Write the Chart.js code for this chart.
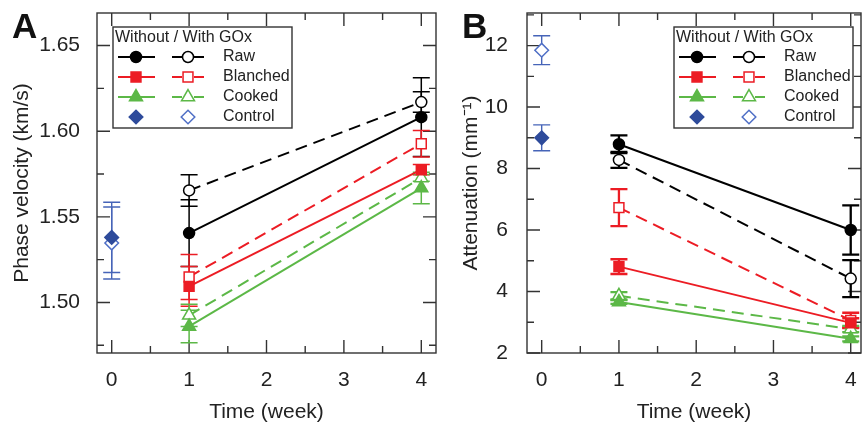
<!DOCTYPE html>
<html>
<head>
<meta charset="utf-8">
<script src="https://cdn.jsdelivr.net/npm/chart.js@4.4.1/dist/chart.umd.min.js"></script>
<style>
  html, body { margin: 0; padding: 0; background: #fff; overflow: hidden; }
  #wrap { position: relative; width: 863px; height: 425px; }
  .panel { position: absolute; top: 0; height: 425px; }
  #panelA { left: 0; width: 445px; }
  #panelB { left: 430px; width: 440px; }
</style>
</head>
<body>
<div id="wrap">
  <div class="panel" id="panelA"><canvas id="chartA" width="445" height="425"></canvas></div>
  <div class="panel" id="panelB"><canvas id="chartB" width="440" height="425"></canvas></div>
</div>
<script>
// ===============================
// Dados
// ===============================
const weeks = [1, 4];
const controlWeek = [0];
const xTicks = [0, 1, 2, 3, 4];

// Painel A - velocidade de fase (km/s)
const velTicks = [1.50, 1.55, 1.60, 1.65];
const velRaw = [1.5405, 1.6082];
const velRawErr = [0.0195, 0.023];
const velRawGox = [1.5654, 1.617];
const velRawGoxErr = [0.0092, 0.006];
const velBlanched = [1.5094, 1.5775];
const velBlanchedErr = [0.0116, 0.003];
const velBlanchedGox = [1.5149, 1.5927];
const velBlanchedGoxErr = [0.0131, 0.0077];
const velCooked = [1.486, 1.5668];
const velCookedErr = [0.0095, 0.0092];
const velCookedGox = [1.4925, 1.5727];
const velCookedGoxErr = [0.0065, 0.002];
const velControl = [1.538];
const velControlErr = [0.0205];
const velControlGox = [1.5347];
const velControlGoxErr = [0.021];

// Painel B - atenuação (mm^-1)
const attTicks = [2, 4, 6, 8, 10, 12];
const attRaw = [8.79, 6.0];
const attRawErr = [0.29, 0.8];
const attRawGox = [8.28, 4.42];
const attRawGoxErr = [0.26, 0.6];
const attBlanched = [4.81, 2.98];
const attBlanchedErr = [0.24, 0.15];
const attBlanchedGox = [6.73, 3.06];
const attBlanchedGoxErr = [0.6, 0.25];
const attCooked = [3.66, 2.46];
const attCookedErr = [0.06, 0.08];
const attCookedGox = [3.86, 2.78];
const attCookedGoxErr = [0.12, 0.1];
const attControl = [9.0];
const attControlErr = [0.42];
const attControlGox = [11.85];
const attControlGoxErr = [0.47];

// ===============================
// Estilos
// ===============================
const FONT = "'Liberation Sans', Arial, sans-serif";
const colors = { Raw: "#000000", Blanched: "#ec1c24", Cooked: "#5cb847", Control: "#2e4b9b" };
const markers = { Raw: "circle", Blanched: "rect", Cooked: "triangle", Control: "rectRot" };
const radius = { circle: 5.5, rect: 7, triangle: 7.5, rectRot: 6.8 };

const makeSet = (name, xs, ys, errs, withGox) => {
  const c = colors[name];
  const style = markers[name];
  const isControl = name === "Control";
  return {
    label: name + (withGox ? " with GOx" : " without GOx"),
    group: name,
    withGox,
    data: xs.map((x, i) => ({ x, y: ys[i] })),
    errors: errs,
    errorColor: isControl ? "#4664b8" : c,
    borderColor: c,
    borderWidth: 2,
    borderDash: withGox ? [12, 7] : [],
    showLine: !isControl,
    pointStyle: style,
    pointRadius: radius[style],
    pointBackgroundColor: withGox ? "#ffffff" : c,
    pointBorderColor: withGox && isControl ? "#4f6fc6" : c,
    pointBorderWidth: 1.5,
    fill: false,
    tension: 0
  };
};

// ===============================
// Plugins
// ===============================
const errorBars = {
  id: "errorBars",
  beforeDatasetsDraw(chart, args, opts) {
    const { ctx, scales: { x, y } } = chart;
    ctx.save();
    chart.data.datasets.forEach(ds => {
      ctx.strokeStyle = ds.errorColor;
      ctx.lineWidth = ds.group === "Control" ? opts.thin : opts.width;
      ds.data.forEach((p, j) => {
        const e = ds.errors[j];
        const px = x.getPixelForValue(p.x);
        const top = y.getPixelForValue(p.y + e);
        const bot = y.getPixelForValue(p.y - e);
        ctx.beginPath();
        ctx.moveTo(px, top); ctx.lineTo(px, bot);
        ctx.moveTo(px - opts.cap, top); ctx.lineTo(px + opts.cap, top);
        ctx.moveTo(px - opts.cap, bot); ctx.lineTo(px + opts.cap, bot);
        ctx.stroke();
      });
    });
    ctx.restore();
  }
};

// moldura com ticks para dentro nos quatro lados
const frameTicks = {
  id: "frameTicks",
  beforeDatasetsDraw(chart) {
    const { ctx, chartArea: a, scales: { x, y } } = chart;
    const major = 13, minor = 7;
    const withMinor = scale => {
      const vals = scale.ticks.map(t => t.value);
      const step = vals[1] - vals[0];
      const out = vals.map(v => ({ v, len: major }));
      for (let v = vals[0] - step / 2; v <= scale.max; v += step) {
        if (v >= scale.min) out.push({ v, len: minor });
      }
      return out;
    };
    ctx.save();
    ctx.strokeStyle = "#333";
    ctx.lineWidth = 1.4;
    ctx.beginPath();
    withMinor(x).forEach(t => {
      const px = x.getPixelForValue(t.v);
      ctx.moveTo(px, a.bottom); ctx.lineTo(px, a.bottom - t.len);
      ctx.moveTo(px, a.top); ctx.lineTo(px, a.top + t.len);
    });
    withMinor(y).forEach(t => {
      const py = y.getPixelForValue(t.v);
      ctx.moveTo(a.left, py); ctx.lineTo(a.left + t.len, py);
      ctx.moveTo(a.right, py); ctx.lineTo(a.right - t.len, py);
    });
    ctx.stroke();
    ctx.strokeRect(a.left, a.top, a.right - a.left, a.bottom - a.top);
    ctx.restore();
  }
};

// legenda "Without / With GOx"
const goxLegend = {
  id: "goxLegend",
  afterDraw(chart, args, opts) {
    const { ctx } = chart;
    const bx = opts.x, by = opts.y, bw = 179, bh = 101;
    ctx.save();
    ctx.fillStyle = "#fff";
    ctx.fillRect(bx, by, bw, bh);
    ctx.strokeStyle = "#333";
    ctx.lineWidth = 1.4;
    ctx.strokeRect(bx, by, bw, bh);
    ctx.fillStyle = "#222";
    ctx.font = "16px " + FONT;
    ctx.textBaseline = "middle";
    ctx.fillText("Without / With GOx", bx + 2, by + 11);

    const groups = ["Raw", "Blanched", "Cooked", "Control"];
    groups.forEach((g, r) => {
      const ry = by + 30 + r * 20;
      const sets = chart.data.datasets.filter(d => d.group === g);
      sets.forEach(ds => {
        const cx = ds.withGox ? bx + 75 : bx + 23;
        if (ds.showLine) {
          ctx.strokeStyle = ds.borderColor;
          ctx.lineWidth = 2;
          ctx.beginPath();
          if (ds.withGox) {
            ctx.moveTo(bx + 59, ry); ctx.lineTo(bx + 69, ry);
            ctx.moveTo(bx + 81, ry); ctx.lineTo(bx + 91, ry);
          } else {
            ctx.moveTo(bx + 5, ry); ctx.lineTo(bx + 42, ry);
          }
          ctx.stroke();
        }
        ctx.fillStyle = ds.pointBackgroundColor;
        ctx.strokeStyle = ds.pointBorderColor;
        ctx.lineWidth = ds.pointBorderWidth;
        Chart.helpers.drawPoint(ctx, { pointStyle: ds.pointStyle, radius: ds.pointRadius, borderWidth: ds.pointBorderWidth, rotation: 0 }, cx, ry);
      });
      ctx.fillStyle = "#222";
      ctx.fillText(g, bx + 110, ry);
    });
    ctx.restore();
  }
};

const panelLetter = {
  id: "panelLetter",
  afterDraw(chart, args, opts) {
    const { ctx } = chart;
    ctx.save();
    ctx.fillStyle = "#111";
    ctx.font = "bold 35px " + FONT;
    ctx.textBaseline = "alphabetic";
    ctx.fillText(opts.text, opts.x, 38);
    ctx.restore();
  }
};

// sem margens extras das escalas: a área do gráfico fica onde a gente quer
const noPad = s => { s.paddingTop = 0; s.paddingBottom = 0; s.paddingLeft = 0; s.paddingRight = 0; };

// ===============================
// Gráficos
// ===============================
const tickFont = { family: FONT, size: 21 };

const makeChart = (canvasId, cfg) => new Chart(document.getElementById(canvasId), {
  type: "line",
  data: { datasets: cfg.datasets },
  plugins: [frameTicks, errorBars, goxLegend, panelLetter],
  options: {
    responsive: false,
    animation: false,
    layout: { padding: { top: 13, right: cfg.padRight, left: 0, bottom: 0 } },
    plugins: {
      legend: { display: false },
      tooltip: { enabled: false },
      errorBars: { width: cfg.errWidth, thin: 1.4, cap: 8.5 },
      goxLegend: { x: cfg.legendX, y: 27 },
      panelLetter: { text: cfg.letter, x: cfg.letterX }
    },
    scales: {
      x: {
        type: "linear",
        min: -0.19,
        max: cfg.xMax,
        afterBuildTicks: s => { s.ticks = xTicks.map(v => ({ value: v })); },
        afterFit: s => { s.height = 72; noPad(s); },
        grid: { display: false, drawTicks: true, tickLength: 15 },
        border: { display: false },
        ticks: { font: tickFont, color: "#222", padding: 0, maxRotation: 0, autoSkip: false, callback: v => String(v) },
        title: { display: true, text: "Time (week)", font: tickFont, color: "#222", padding: { top: 0, bottom: 0 } }
      },
      y: {
        type: "linear",
        min: cfg.yMin,
        max: cfg.yMax,
        afterBuildTicks: s => { s.ticks = cfg.yTicks.map(v => ({ value: v })); },
        afterFit: s => { s.width = 97; noPad(s); },
        grid: { display: false, drawTicks: true, tickLength: cfg.yPad },
        border: { display: false },
        ticks: { font: tickFont, color: "#222", padding: 0, autoSkip: false, callback: cfg.yFormat },
        title: { display: true, text: cfg.yTitle, font: tickFont, color: "#222", padding: { top: cfg.titlePad, bottom: 0 } }
      }
    }
  }
});

makeChart("chartA", {
  letter: "A", letterX: 12, legendX: 113, padRight: 9, xMax: 4.19,
  yMin: 1.4705, yMax: 1.669, yTicks: velTicks, yPad: 17, titlePad: 10,
  yFormat: v => v.toFixed(2), yTitle: "Phase velocity (km/s)", errWidth: 1.5,
  datasets: [
    makeSet("Raw", weeks, velRaw, velRawErr, false),
    makeSet("Raw", weeks, velRawGox, velRawGoxErr, true),
    makeSet("Blanched", weeks, velBlanched, velBlanchedErr, false),
    makeSet("Blanched", weeks, velBlanchedGox, velBlanchedGoxErr, true),
    makeSet("Cooked", weeks, velCooked, velCookedErr, false),
    makeSet("Cooked", weeks, velCookedGox, velCookedGoxErr, true),
    makeSet("Control", controlWeek, velControl, velControlErr, false),
    makeSet("Control", controlWeek, velControlGox, velControlGoxErr, true)
  ]
});

makeChart("chartB", {
  letter: "B", letterX: 32, legendX: 244, padRight: 9, xMax: 4.133,
  yMin: 2, yMax: 13.06, yTicks: attTicks, yPad: 19, titlePad: 29,
  yFormat: v => String(v), yTitle: "Attenuation (mm\u207B\u00B9)", errWidth: 2.3,
  datasets: [
    makeSet("Raw", weeks, attRaw, attRawErr, false),
    makeSet("Raw", weeks, attRawGox, attRawGoxErr, true),
    makeSet("Blanched", weeks, attBlanched, attBlanchedErr, false),
    makeSet("Blanched", weeks, attBlanchedGox, attBlanchedGoxErr, true),
    makeSet("Cooked", weeks, attCooked, attCookedErr, false),
    makeSet("Cooked", weeks, attCookedGox, attCookedGoxErr, true),
    makeSet("Control", controlWeek, attControl, attControlErr, false),
    makeSet("Control", controlWeek, attControlGox, attControlGoxErr, true)
  ]
});
</script>
</body>
</html>
